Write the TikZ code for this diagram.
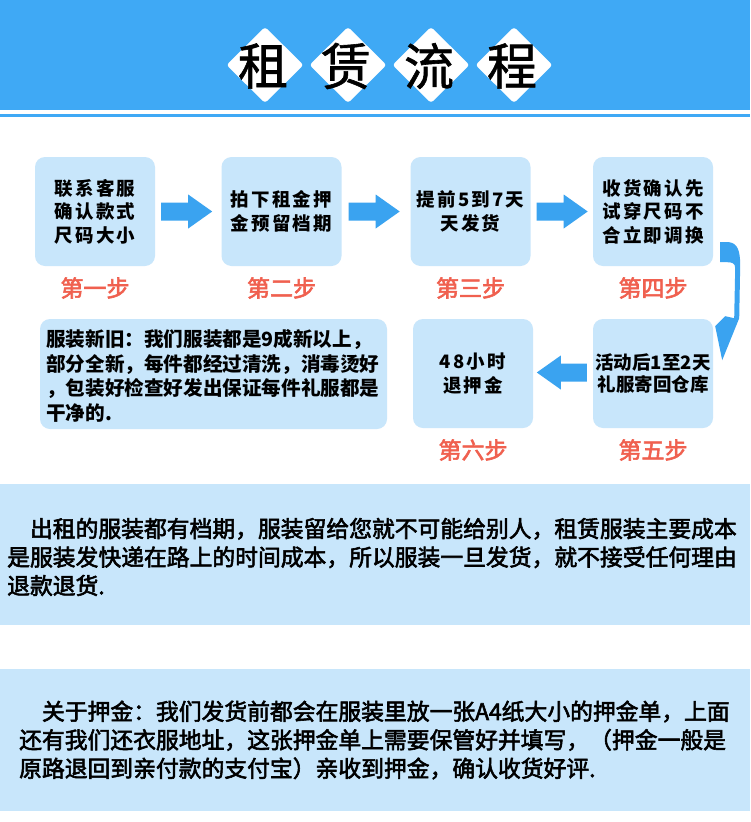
\documentclass[tikz,border=0pt]{standalone}
\usepackage{fontspec}
\newfontfamily\cjk{Noto Sans CJK SC}
\newfontfamily\cjkmed[FakeBold=1.2]{Noto Sans CJK SC}
\newfontfamily\cjkhv[FakeBold=2.5]{Noto Sans CJK SC}
\newfontfamily\cjkls[LetterSpace=12]{Noto Sans CJK SC}
\usetikzlibrary{calc,arrows.meta}
\definecolor{hblue}{HTML}{3FA9F5}
\definecolor{ablue}{HTML}{3AA3F0}
\definecolor{lblue}{HTML}{C8E6FB}
\definecolor{stepred}{HTML}{F0604F}
\tikzset{
  titlechar/.style={font=\cjkmed\fontsize{50}{50}\selectfont, text=black, inner sep=0pt},
  stepbox/.style={fill=lblue, rounded corners=10pt, minimum width=120pt, minimum height=109pt,
    inner sep=0pt, align=center, text=black, font=\cjkls\bfseries\fontsize{18.5}{23.5}\selectfont},
  steplabel/.style={text=stepred, inner sep=0pt, font=\cjkhv\fontsize{23}{23}\selectfont},
  notebox/.style={fill=lblue, rounded corners=10pt, minimum width=347pt, minimum height=110pt, inner sep=0pt},
  notetext/.style={align=left, inner sep=0pt, text=black, font=\cjk\bfseries\fontsize{19.6}{24.7}\selectfont},
  paneltext/.style={align=left, inner sep=0pt, text=black, font=\cjkhv\fontsize{22.8}{28.5}\selectfont},
  blockarrow/.style={fill=ablue},
}
\begin{document}
\begin{tikzpicture}[x=1pt,y=-1pt]
\useasboundingbox (0,0) rectangle (750,822);
\fill[white] (0,0) rectangle (750,822);
% header
\fill[hblue] (0,0) rectangle (750,110);
\fill[hblue] (0,114) rectangle (750,117);
\foreach \c/\t/\n in {265/租/d1, 348/赁/d2, 431/流/d3, 514/程/d4} {
  \fill[white, rounded corners=3pt] (\c,27) -- (\c+38.5,65) -- (\c,103) -- (\c-38.5,65) -- cycle;
  \node[titlechar] (\n) at (\c-2,66) {\t};
}
% step boxes
\node[stepbox] (b1) at (95,211.5) {联系客服\\确认款式\\尺码大小};
\node[stepbox] (b2) at (281.5,211.5) {拍下租金押\\金预留档期};
\node[stepbox] (b3) at (470.5,211.5) {提前5到7天\\天发货};
\node[stepbox] (b4) at (653,211.5) {收货确认先\\试穿尺码不\\合立即调换};
\node[stepbox, font=\cjk\bfseries\fontsize{18.5}{22.5}\selectfont] (b5) at (653,373.5) {活动后1至2天\\礼服寄回仓库};
\node[stepbox] (b6) at (473,373.5) {48小时\\退押金};
% step labels
\node[steplabel] (s1) at (95,288) {第一步};
\node[steplabel] (s2) at (281.5,288) {第二步};
\node[steplabel] (s3) at (470.5,288) {第三步};
\node[steplabel] (s4) at (653,288) {第四步};
\node[steplabel] (s5) at (653,450) {第五步};
\node[steplabel] (s6) at (473,450) {第六步};
% note
\node[notebox] (note) at (213.5,374) {};
\node[notetext, anchor=west] (notet) at (46,376) {服装新旧：我们服装都是9成新以上，\\部分全新，每件都经过清洗，消毒烫好\\，包装好检查好发出保证每件礼服都是\\干净的.};
% block arrows
\fill[blockarrow] ($(b1.east)+(6,-9)$) -- ++(27,0) -- ++(0,-8) -- ++(24,17) -- ++(-24,17) -- ++(0,-8) -- ++(-27,0) -- cycle;
\fill[blockarrow] ($(b2.east)+(7,-9)$) -- ++(27,0) -- ++(0,-8) -- ++(24,17) -- ++(-24,17) -- ++(0,-8) -- ++(-27,0) -- cycle;
\fill[blockarrow] ($(b3.east)+(6,-9)$) -- ++(27,0) -- ++(0,-8) -- ++(24,17) -- ++(-24,17) -- ++(0,-8) -- ++(-27,0) -- cycle;
\fill[blockarrow] ($(b5.west)+(-6,-10)$) -- ++(-26,0) -- ++(0,-8) -- ++(-24,17) -- ++(24,17) -- ++(0,-8) -- ++(26,0) -- cycle;
% curved arrow from step 4 to step 5
\coordinate (c1) at ($(b4.south east)+(7,-24)$);
\coordinate (c2) at ($(b5.north east)+(10,41)$);
\begin{scope}[shift={(c1)}]
\fill[blockarrow] (0,0) -- (9,0) .. controls (17,1) and (20,8) .. (20,23) -- (19,76) -- (2,118) -- (-5,84) -- (5,74) -- (14,76) -- (15,26) .. controls (15,21) and (12,20) .. (7,20) -- (0,20) -- cycle;
\end{scope}
% bottom panels
\fill[lblue] (0,484) rectangle (750,625);
\node[paneltext, anchor=west] (p1t) at (7,557) {\hspace*{1em}出租的服装都有档期，服装留给您就不可能给别人，租赁服装主要成本\\是服装发快递在路上的时间成本，所以服装一旦发货，就不接受任何理由\\退款退货.};
\fill[lblue] (0,669) rectangle (750,811);
\node[paneltext, anchor=west] (p2t) at (19,740) {\hspace*{1em}关于押金：我们发货前都会在服装里放一张A4纸大小的押金单，上面\\还有我们还衣服地址，这张押金单上需要保管好并填写，（押金一般是\\原路退回到亲付款的支付宝）亲收到押金，确认收货好评.};
\end{tikzpicture}
\end{document}
